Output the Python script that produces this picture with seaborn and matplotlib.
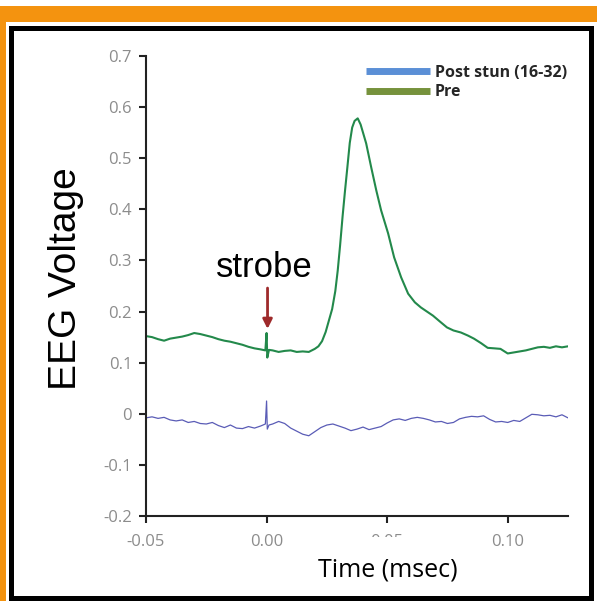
import matplotlib
matplotlib.use("Agg")
import matplotlib.pyplot as plt
import seaborn as sns
from matplotlib.patches import Rectangle
from matplotlib.lines import Line2D

# ===================== Data =====================
pre_time = [-0.0500, -0.0475, -0.0450, -0.0425, -0.0400, -0.0375, -0.0350, -0.0325,
            -0.0300, -0.0275, -0.0250, -0.0225, -0.0200, -0.0175, -0.0150, -0.0125,
            -0.0100, -0.0075, -0.0050, -0.0025, -0.0005, 0.0000, 0.0003, 0.0010,
            0.0025, 0.0050, 0.0075, 0.0100, 0.0125, 0.0150, 0.0175, 0.0200,
            0.0215, 0.0230, 0.0245, 0.0260, 0.0272, 0.0285, 0.0295, 0.0305,
            0.0315, 0.0325, 0.0335, 0.0345, 0.0355, 0.0365, 0.0378, 0.0390,
            0.0400, 0.0413, 0.0434, 0.0455, 0.0475, 0.0504,
            0.0529, 0.0558, 0.0587, 0.0615, 0.0640, 0.0665, 0.0690, 0.0720,
            0.0748, 0.0775, 0.0806, 0.0835, 0.0860, 0.0890, 0.0917, 0.0945,
            0.0970, 0.1000, 0.1025, 0.1050, 0.1075, 0.1100, 0.1125, 0.1150,
            0.1175, 0.1200, 0.1225, 0.1250]
pre_volt = [0.152, 0.150, 0.146, 0.143, 0.147, 0.149, 0.151, 0.154,
            0.158, 0.156, 0.153, 0.150, 0.146, 0.143, 0.141, 0.138,
            0.135, 0.131, 0.128, 0.126, 0.124, 0.158, 0.110, 0.125,
            0.124, 0.121, 0.123, 0.124, 0.121, 0.122, 0.121, 0.127,
            0.132, 0.142, 0.160, 0.185, 0.205, 0.240, 0.280, 0.330,
            0.385, 0.435, 0.482, 0.530, 0.560, 0.573, 0.578, 0.566,
            0.550, 0.529, 0.482, 0.437, 0.398, 0.353,
            0.306, 0.267, 0.235, 0.218, 0.208, 0.200, 0.192, 0.180,
            0.169, 0.163, 0.159, 0.153, 0.147, 0.138, 0.129, 0.128,
            0.127, 0.118, 0.120, 0.122, 0.124, 0.127, 0.130, 0.131,
            0.129, 0.132, 0.130, 0.132]

post_time = [-0.0500, -0.0475, -0.0450, -0.0425, -0.0400, -0.0375, -0.0350, -0.0325,
             -0.0300, -0.0275, -0.0250, -0.0225, -0.0200, -0.0175, -0.0150, -0.0125,
             -0.0100, -0.0075, -0.0050, -0.0025, -0.0005, 0.0000, 0.0003, 0.0010,
             0.0025, 0.0050, 0.0075, 0.0100, 0.0125, 0.0150, 0.0175, 0.0200,
             0.0225, 0.0250, 0.0275, 0.0300, 0.0325, 0.0350, 0.0375, 0.0400,
             0.0425, 0.0450, 0.0475, 0.0500, 0.0525, 0.0550, 0.0575, 0.0600,
             0.0625, 0.0650, 0.0675, 0.0700, 0.0725, 0.0750, 0.0775, 0.0800,
             0.0825, 0.0850, 0.0875, 0.0900, 0.0925, 0.0950, 0.0975, 0.1000,
             0.1025, 0.1050, 0.1075, 0.1100, 0.1125, 0.1150, 0.1175, 0.1200,
             0.1225, 0.1250]
post_volt = [-0.008, -0.006, -0.009, -0.007, -0.012, -0.014, -0.012, -0.017,
             -0.015, -0.019, -0.020, -0.017, -0.023, -0.027, -0.022, -0.028,
             -0.029, -0.025, -0.028, -0.024, -0.020, 0.025, -0.030, -0.022,
             -0.020, -0.015, -0.019, -0.028, -0.034, -0.040, -0.043, -0.035,
             -0.027, -0.022, -0.020, -0.024, -0.028, -0.033, -0.030, -0.026,
             -0.031, -0.028, -0.025, -0.018, -0.012, -0.010, -0.013, -0.009,
             -0.007, -0.009, -0.012, -0.016, -0.015, -0.019, -0.017, -0.010,
             -0.007, -0.005, -0.006, -0.004, -0.011, -0.016, -0.015, -0.017,
             -0.013, -0.015, -0.008, -0.001, -0.002, -0.004, -0.003, -0.006,
             -0.002, -0.008]

x_ticks = [-0.05, 0.0, 0.05, 0.10]
x_tick_labels = ["-0.05", "0.00", "0.05", "0.10"]
y_ticks = [-0.2, -0.1, 0.0, 0.1, 0.2, 0.3, 0.4, 0.5, 0.6, 0.7]
y_tick_labels = ["-0.2", "-0.1", "0", "0.1", "0.2", "0.3", "0.4", "0.5", "0.6", "0.7"]
legend_labels = ["Post stun (16-32)", "Pre"]

# ===================== Style =====================
sns.set_theme(style="ticks")
plt.rcParams['font.family'] = ['Open Sans', 'DejaVu Sans']
plt.rcParams['axes.unicode_minus'] = False

W, H = 597, 601
fig = plt.figure(figsize=(W / 100, H / 100), dpi=100)
fig.patch.set_facecolor("white")

orange = "#f4930f"
# orange slide frame
fig.add_artist(Rectangle((0, 1 - 22 / H), 1, 16 / H, transform=fig.transFigure,
                         facecolor=orange, edgecolor="none", zorder=0))
fig.add_artist(Rectangle((0, 0), 6 / W, 1 - 6 / H, transform=fig.transFigure,
                         facecolor=orange, edgecolor="none", zorder=0))
# black box
fig.add_artist(Rectangle((10.5 / W, 1 - 598 / H), 580 / W, 570.5 / H, transform=fig.transFigure,
                         facecolor="none", edgecolor="black", linewidth=3.6, zorder=0))

ax = fig.add_axes([146 / W, 1 - 516 / H, (568 - 146) / W, (516 - 56) / H])
ax.set_facecolor("none")

# ===================== Curves =====================
sns.lineplot(x=post_time, y=post_volt, ax=ax, color="#5a5cb6", linewidth=0.9,
             estimator=None, sort=False)
sns.lineplot(x=pre_time, y=pre_volt, ax=ax, color="#23894b", linewidth=1.5,
             estimator=None, sort=False)

ax.set_xlim(-0.05, 0.125)
ax.set_ylim(-0.2, 0.7)
ax.set_xticks(x_ticks)
ax.set_xticklabels(x_tick_labels)
ax.set_yticks(y_ticks)
ax.set_yticklabels(y_tick_labels)
sns.despine(ax=ax)
for s in ["left", "bottom"]:
    ax.spines[s].set_linewidth(1.5)
    ax.spines[s].set_color("#222222")
ax.tick_params(axis="both", direction="out", length=5, width=1.5, color="#222222",
               labelcolor="#8c8c8c", labelsize=12)
ax.tick_params(axis="y", pad=5)
ax.tick_params(axis="x", pad=8)
ax.set_xlabel("")
ax.set_ylabel("")

# strobe marker
ax.text(-0.001, 0.267, "strobe", ha="center", va="baseline", fontsize=25,
        family="Liberation Sans", color="black")
ax.annotate("", xy=(0.0004, 0.166), xytext=(0.0004, 0.246),
            arrowprops=dict(arrowstyle="-|>", color="#9e2a2b", lw=2, mutation_scale=14,
                            shrinkA=0, shrinkB=0))

# legend
handles = [Line2D([], [], color="#5b8fd6", lw=5, solid_capstyle="butt"),
           Line2D([], [], color="#76923c", lw=5, solid_capstyle="butt")]
fig.legend(handles, legend_labels, loc="upper left", bbox_to_anchor=(358 / W, 1 - 57 / H),
           frameon=False, borderpad=0, handlelength=4.0, handletextpad=0.3,
           labelspacing=0.2, prop={"family": "Open Sans", "weight": "bold", "size": 11.5})

# axis titles
fig.text(66 / W, 1 - 279 / H, "EEG Voltage", rotation=90, ha="center", va="center",
         fontsize=28, family="Liberation Sans", color="black")
# white text box that hides the lower part of the 0.05 label
fig.add_artist(Rectangle((352 / W, 1 - 556 / H), 70 / W, 19 / H, transform=fig.transFigure,
                         facecolor="white", edgecolor="none", zorder=5))
fig.text(388 / W, 1 - 570 / H, "Time (msec)", ha="center", va="center",
         fontsize=18, family="Open Sans", color="black", zorder=6)

plt.savefig("out.png", dpi=100)
plt.close()
